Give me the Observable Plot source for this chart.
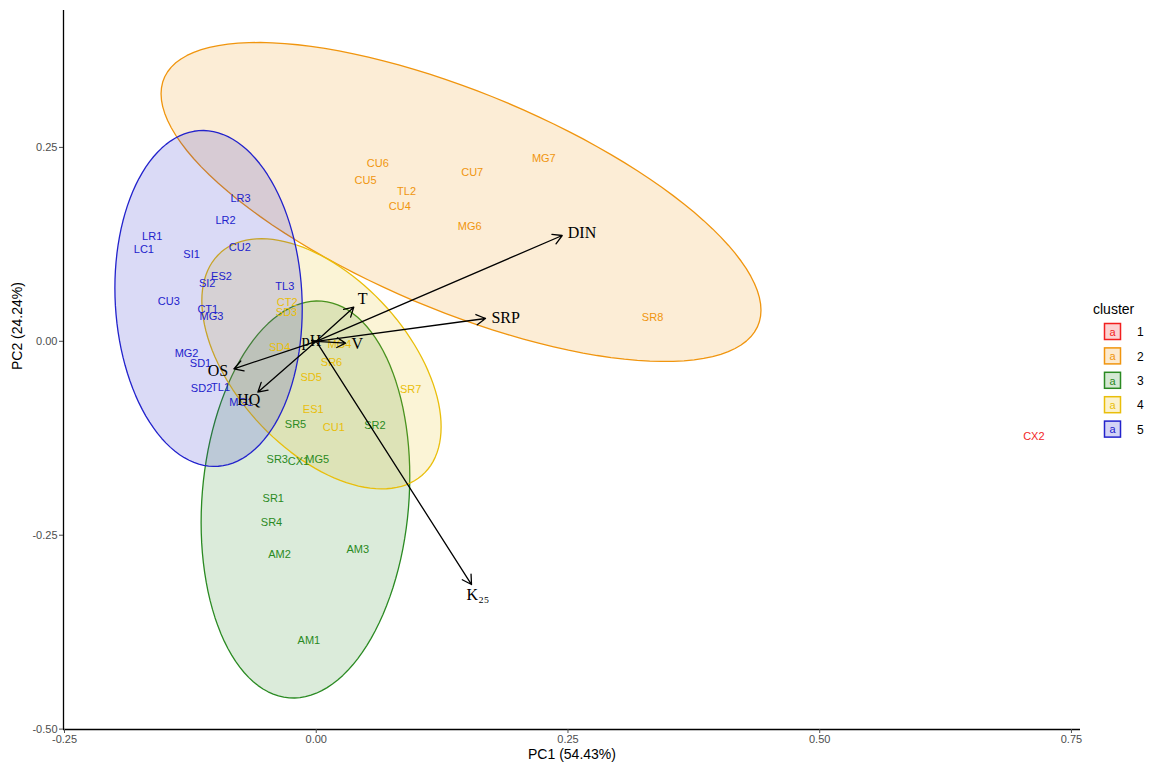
<!DOCTYPE html>
<html>
<head>
<meta charset="utf-8">
<script src="https://cdn.jsdelivr.net/npm/d3@7"></script>
<script src="https://cdn.jsdelivr.net/npm/@observablehq/plot@0.6"></script>
<style>
  body { margin: 0; background: #fff; }
  #chart { position: relative; width: 1151px; height: 766px; font-family: "Liberation Sans", Arial, sans-serif; }
</style>
</head>
<body>
<div id="chart"></div>
<script>
// Sample scores on the first two principal components
const samples = ["CU6","CU5","TL2","CU4","CU7","MG7","MG6","SR8",
  "CX2",
  "LR3","LR2","LR1","LC1","SI1","CU2","ES2","SI2","CU3","CT1","MG3","TL3","MG2","SD1","SD2","TL1","MG1",
  "CT2","SD3","SD4","MG4","SR6","SD5","SR7","ES1","CU1",
  "SR5","SR2","SR3","CX1","MG5","SR1","SR4","AM2","AM3","AM1"];
const pc1 = [0.0612,0.0490,0.0897,0.0830,0.1549,0.2260,0.1525,0.3340,
  0.7127,
  -0.0752,-0.0901,-0.1629,-0.1712,-0.1238,-0.0759,-0.0941,-0.1083,-0.1464,-0.1077,-0.1040,-0.0312,-0.1288,-0.1149,-0.1139,-0.0950,-0.0745,
  -0.0288,-0.0295,-0.0364,0.0231,0.0152,-0.0050,0.0937,-0.0030,0.0175,
  -0.0206,0.0582,-0.0387,-0.0176,0.0010,-0.0427,-0.0444,-0.0364,0.0413,-0.0073];
const pc2 = [0.2296,0.2073,0.1935,0.1742,0.2173,0.2361,0.1484,0.0307,
  -0.1224,
  0.1845,0.1554,0.1351,0.1187,0.1115,0.1213,0.0839,0.0749,0.0517,0.0410,0.0324,0.0707,-0.0157,-0.0282,-0.0605,-0.0592,-0.0785,
  0.0504,0.0371,-0.0084,-0.0045,-0.0273,-0.0471,-0.0621,-0.0883,-0.1108,
  -0.1073,-0.1086,-0.1524,-0.1546,-0.1524,-0.2023,-0.2332,-0.2749,-0.2681,-0.3858];
const cluster = ["2","2","2","2","2","2","2","2",
  "1",
  "5","5","5","5","5","5","5","5","5","5","5","5","5","5","5","5","5",
  "4","4","4","4","4","4","4","4","4",
  "3","3","3","3","3","3","3","3","3","3"];

// Variable loadings (arrow tips)
const variables = ["DIN","SRP","T","V","OS","HQ","K₂₅","pH"];
const load1 = [0.2443,0.1681,0.0373,0.0291,-0.0818,-0.0580,0.1542,-0.0047];
const load2 = [0.1364,0.0294,0.0440,-0.0024,-0.0355,-0.0656,-0.3136,0.0010];

// Clusters and their colours
const clusterIds = ["1","2","3","4","5"];
const clusterColors = ["#F21F1F","#F0950E","#2A8A22","#E9BE0A","#2222CC"];

// Axes
const xTicks = [-0.25, 0, 0.25, 0.5, 0.75];
const yTicks = [-0.5, -0.25, 0, 0.25];
const xDomain = [-0.251, 0.759];
const yDomain = [-0.5005, 0.4265];
const xTitle = "PC1 (54.43%)";
const yTitle = "PC2 (24.24%)";
const legendTitle = "cluster";

const W = 1151, H = 766;
const M = {top: 10, right: 71, bottom: 37, left: 63};

const scores = samples.map((s, i) => ({name: s, pc1: pc1[i], pc2: pc2[i], cluster: cluster[i]}));

// Sample covariance (n - 1 divisor) and centroid of a point set
function covNorm(pts) {
  const n = pts.length;
  const mx = d3.mean(pts, p => p[0]), my = d3.mean(pts, p => p[1]);
  let a = 0, b = 0, c = 0;
  for (const p of pts) {
    const dx = p[0] - mx, dy = p[1] - my;
    a += dx * dx; b += dx * dy; c += dy * dy;
  }
  return {cov: [a / (n - 1), b / (n - 1), c / (n - 1)], center: [mx, my]};
}

// F quantile with 2 numerator degrees of freedom (closed form)
const qf2 = (p, d2) => (d2 / 2) * (Math.pow(1 - p, -2 / d2) - 1);

// 95% normal ellipse outline for each cluster with at least three samples
const ellipses = [];
for (const id of clusterIds) {
  const pts = scores.filter(d => d.cluster === id).map(d => [d.pc1, d.pc2]);
  if (pts.length < 3) continue;
  const {cov, center} = covNorm(pts);
  const ra = Math.sqrt(cov[0]);
  const rb = cov[1] / ra;
  const rc = Math.sqrt(cov[2] - rb * rb);
  const radius = Math.sqrt(2 * qf2(0.95, pts.length - 1));
  const seg = 120;
  for (let k = 0; k <= seg; k++) {
    const t = k * 2 * Math.PI / seg;
    const ct = Math.cos(t), st = Math.sin(t);
    ellipses.push({cluster: id, x: center[0] + radius * ra * ct, y: center[1] + radius * (rb * ct + rc * st)});
  }
}

// Arrow labels sit just past the tips, anchored by arrow direction
const kx = (W - M.left - M.right) / (xDomain[1] - xDomain[0]);
const ky = (H - M.top - M.bottom) / (yDomain[1] - yDomain[0]);
const arrows = variables.map((v, i) => {
  const px = load1[i] * kx, py = load2[i] * ky;
  const len = Math.hypot(px, py) || 1;
  const ux = px / len, uy = py / len;
  const short = len < 12;
  const anchor = short ? "middle" : ux > 0.8 ? "start" : ux < -0.8 ? "end" : "middle";
  const r = short ? 0 : anchor === "middle" ? 12 : 6;
  return {name: v, pc1: load1[i], pc2: load2[i], anchor,
          lx: load1[i] + ux * r / kx, ly: load2[i] + uy * r / ky};
});

const fmt = d => d.toFixed(2);
const labelFont = "'Liberation Serif', 'DejaVu Serif', serif";

const chart = Plot.plot({
  width: W, height: H,
  marginTop: M.top, marginRight: M.right, marginBottom: M.bottom, marginLeft: M.left,
  x: {domain: xDomain},
  y: {domain: yDomain},
  color: {domain: clusterIds, range: clusterColors},
  style: {fontFamily: "'Liberation Sans', Arial, sans-serif", background: "white", overflow: "visible"},
  marks: [
    Plot.line(ellipses, {x: "x", y: "y", z: "cluster", fill: "cluster", fillOpacity: 0.17, stroke: "cluster", strokeWidth: 1.3}),
    Plot.text(scores, {x: "pc1", y: "pc2", text: "name", fill: "cluster", fontSize: 11}),
    Plot.arrow(arrows, {x1: () => 0, y1: () => 0, x2: "pc1", y2: "pc2", stroke: "black", strokeWidth: 1.3, headLength: 12}),
    ...["start", "middle", "end"].map(a =>
      Plot.text(arrows.filter(d => d.anchor === a), {x: "lx", y: "ly", text: "name", textAnchor: a, fontSize: 16, fontFamily: labelFont, fill: "black"})),
    Plot.ruleX([xDomain[0]], {stroke: "black", strokeWidth: 1.3}),
    Plot.ruleY([yDomain[0]], {stroke: "black", strokeWidth: 1.3}),
    Plot.axisX({ticks: xTicks, tickFormat: fmt, tickSize: 4, tickPadding: 2, fontSize: 11, color: "#4d4d4d", label: null}),
    Plot.axisY({ticks: yTicks, tickFormat: fmt, tickSize: 4, tickPadding: 2, fontSize: 11, color: "#4d4d4d", label: null}),
    Plot.text([xTitle], {frameAnchor: "bottom", dy: 29, fontSize: 14, fill: "black"}),
    Plot.text([yTitle], {frameAnchor: "left", dx: -46, rotate: -90, fontSize: 14, fill: "black"})
  ]
});
document.getElementById("chart").appendChild(chart);

// Cluster legend to the right of the panel
const leg = d3.select("#chart").append("svg")
  .attr("width", 63).attr("height", 150)
  .style("position", "absolute").style("left", "1088px").style("top", "296px")
  .style("font-family", "'Liberation Sans', Arial, sans-serif");
leg.append("text").attr("x", 5).attr("y", 18).attr("font-size", 14).attr("fill", "black").text(legendTitle);
clusterIds.forEach((id, i) => {
  const y0 = 27 + i * 24.4;
  const g = leg.append("g");
  g.append("rect").attr("x", 16.5).attr("y", y0 + 0.5).attr("width", 16).attr("height", 16)
    .attr("fill", clusterColors[i]).attr("fill-opacity", 0.2)
    .attr("stroke", clusterColors[i]).attr("stroke-width", 1.5);
  g.append("text").attr("x", 24.5).attr("y", y0 + 9).attr("dy", "0.35em").attr("text-anchor", "middle")
    .attr("font-size", 11).attr("fill", clusterColors[i]).text("a");
  g.append("text").attr("x", 49).attr("y", y0 + 9).attr("dy", "0.35em")
    .attr("font-size", 12).attr("fill", "black").text(id);
});
</script>
</body>
</html>
